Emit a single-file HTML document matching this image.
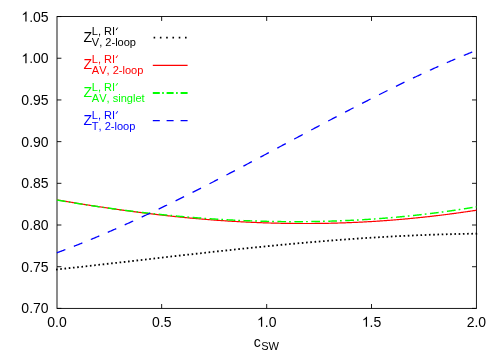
<!DOCTYPE html>
<html><head><meta charset="utf-8"><title>plot</title>
<style>html,body{margin:0;padding:0;background:#fff;}body{width:500px;height:350px;overflow:hidden;font-family:"Liberation Sans",sans-serif;}</style>
</head><body>
<svg width="500" height="350" viewBox="0 0 500 350" style="display:block;transform:translateZ(0);will-change:transform;font-kerning:none;font-variant-ligatures:none" font-family="Liberation Sans, sans-serif">
<rect x="0" y="0" width="500" height="350" fill="#fff"/>
<rect x="57.0" y="16.55" width="419.40" height="291.85" fill="none" stroke="#000" stroke-width="0.9"/>
<path d="M57.0,308.40h4.4M476.4,308.40h-4.4M57.0,266.71h4.4M476.4,266.71h-4.4M57.0,225.01h4.4M476.4,225.01h-4.4M57.0,183.32h4.4M476.4,183.32h-4.4M57.0,141.63h4.4M476.4,141.63h-4.4M57.0,99.94h4.4M476.4,99.94h-4.4M57.0,58.24h4.4M476.4,58.24h-4.4M57.0,16.55h4.4M476.4,16.55h-4.4M161.65,308.4v-4.4M161.65,16.55v4.4M266.70,308.4v-4.4M266.70,16.55v4.4M371.50,308.4v-4.4M371.50,16.55v4.4" fill="none" stroke="#000" stroke-width="0.9"/>
<path d="M56.00,269.55L57.60,269.39 M60.24,269.10L61.84,268.94 M64.48,268.64L66.08,268.48 M68.72,268.18L70.32,268.02 M72.95,267.72L74.55,267.56 M77.19,267.25L78.79,267.09 M81.43,266.78L83.03,266.62 M85.67,266.31L87.27,266.15 M89.91,265.83L91.51,265.67 M94.15,265.36L95.75,265.20 M98.38,264.88L99.98,264.72 M102.62,264.40L104.22,264.24 M106.86,263.92L108.46,263.76 M111.10,263.43L112.70,263.27 M115.34,262.95L116.94,262.79 M119.58,262.46L121.18,262.30 M123.81,261.98L125.41,261.82 M128.05,261.49L129.65,261.33 M132.29,261.00L133.89,260.84 M136.53,260.52L138.13,260.36 M140.77,260.03L142.37,259.87 M145.01,259.54L146.61,259.38 M149.24,259.05L150.84,258.89 M153.48,258.57L155.08,258.41 M157.72,258.08L159.32,257.92 M161.96,257.59L163.56,257.43 M166.20,257.11L167.80,256.95 M170.44,256.62L172.04,256.46 M174.67,256.14L176.27,255.98 M178.91,255.66L180.51,255.50 M183.15,255.18L184.75,255.02 M187.39,254.70L188.99,254.54 M191.63,254.23L193.23,254.07 M195.87,253.75L197.47,253.59 M200.11,253.28L201.71,253.12 M204.34,252.81L205.94,252.65 M208.58,252.34L210.18,252.18 M212.82,251.88L214.42,251.72 M217.06,251.42L218.66,251.26 M221.30,250.96L222.90,250.80 M225.54,250.50L227.14,250.34 M229.77,250.05L231.37,249.89 M234.01,249.60L235.61,249.44 M238.25,249.15L239.85,248.99 M242.49,248.71L244.09,248.55 M246.73,248.27L248.33,248.11 M250.97,247.84L252.57,247.68 M255.20,247.41L256.80,247.25 M259.44,246.98L261.04,246.82 M263.68,246.56L265.28,246.40 M267.92,246.15L269.52,245.99 M272.16,245.73L273.76,245.57 M276.40,245.33L278.00,245.17 M280.63,244.92L282.23,244.76 M284.87,244.53L286.47,244.37 M289.11,244.13L290.71,243.97 M293.35,243.75L294.95,243.59 M297.59,243.37L299.19,243.21 M301.83,242.99L303.43,242.83 M306.06,242.62L307.66,242.46 M310.30,242.25L311.90,242.09 M314.54,241.90L316.14,241.74 M318.78,241.54L320.38,241.38 M323.02,241.20L324.62,241.04 M327.26,240.86L328.86,240.70 M331.49,240.52L333.09,240.36 M335.73,240.20L337.33,240.04 M339.97,239.88L341.57,239.72 M344.21,239.56L345.81,239.40 M348.45,239.26L350.05,239.10 M352.69,238.96L354.29,238.80 M356.93,238.66L358.53,238.50 M361.16,238.38L362.76,238.22 M365.40,238.10L367.00,237.94 M369.64,237.83L371.24,237.67 M373.88,237.57L375.48,237.41 M378.12,237.31L379.72,237.15 M382.36,237.06L383.96,236.90 M386.59,236.82L388.19,236.66 M390.83,236.59L392.43,236.43 M395.07,236.37L396.67,236.21 M399.31,236.15L400.91,235.99 M403.55,235.95L405.15,235.79 M407.79,235.75L409.39,235.59 M412.02,235.56L413.62,235.40 M416.26,235.37L417.86,235.21 M420.50,235.20L422.10,235.04 M424.74,235.03L426.34,234.87 M428.98,234.88L430.58,234.72 M433.22,234.73L434.82,234.57 M437.45,234.59L439.05,234.43 M441.69,234.46L443.29,234.30 M445.93,234.34L447.53,234.18 M450.17,234.23L451.77,234.07 M454.41,234.13L456.01,233.97 M458.65,234.04L460.25,233.88 M462.88,233.96L464.48,233.80 M467.12,233.88L468.72,233.72 M471.36,233.82L472.96,233.66 M475.60,233.77L477.20,233.61" fill="none" stroke="#000" stroke-width="1.8"/>
<path d="M57.00,199.89 L58.00,200.06 L59.00,200.24 L60.00,200.41 L61.00,200.58 L62.00,200.75 L63.01,200.92 L64.01,201.09 L65.01,201.26 L66.01,201.43 L67.01,201.59 L68.01,201.76 L69.01,201.93 L70.01,202.10 L71.01,202.26 L72.01,202.43 L73.02,202.59 L74.02,202.76 L75.02,202.92 L76.02,203.09 L77.02,203.25 L78.02,203.41 L79.02,203.58 L80.02,203.74 L81.02,203.90 L82.02,204.06 L83.02,204.22 L84.03,204.38 L85.03,204.54 L86.03,204.70 L87.03,204.86 L88.03,205.02 L89.03,205.18 L90.03,205.33 L91.03,205.49 L92.03,205.65 L93.03,205.80 L94.04,205.96 L95.04,206.11 L96.04,206.26 L97.04,206.42 L98.04,206.57 L99.04,206.72 L100.04,206.88 L101.04,207.03 L102.04,207.18 L103.04,207.33 L104.04,207.48 L105.05,207.63 L106.05,207.77 L107.05,207.92 L108.05,208.07 L109.05,208.22 L110.05,208.36 L111.05,208.51 L112.05,208.65 L113.05,208.80 L114.05,208.94 L115.06,209.09 L116.06,209.23 L117.06,209.37 L118.06,209.51 L119.06,209.65 L120.06,209.79 L121.06,209.93 L122.06,210.07 L123.06,210.21 L124.06,210.35 L125.06,210.49 L126.07,210.62 L127.07,210.76 L128.07,210.90 L129.07,211.03 L130.07,211.16 L131.07,211.30 L132.07,211.43 L133.07,211.56 L134.07,211.70 L135.07,211.83 L136.08,211.96 L137.08,212.09 L138.08,212.22 L139.08,212.35 L140.08,212.47 L141.08,212.60 L142.08,212.73 L143.08,212.86 L144.08,212.98 L145.08,213.11 L146.08,213.23 L147.09,213.35 L148.09,213.48 L149.09,213.60 L150.09,213.72 L151.09,213.84 L152.09,213.96 L153.09,214.08 L154.09,214.20 L155.09,214.32 L156.09,214.44 L157.10,214.55 L158.10,214.67 L159.10,214.79 L160.10,214.90 L161.10,215.02 L162.10,215.13 L163.10,215.24 L164.10,215.35 L165.10,215.47 L166.10,215.58 L167.11,215.69 L168.11,215.80 L169.11,215.91 L170.11,216.01 L171.11,216.12 L172.11,216.23 L173.11,216.33 L174.11,216.44 L175.11,216.54 L176.11,216.65 L177.11,216.75 L178.12,216.85 L179.12,216.95 L180.12,217.06 L181.12,217.16 L182.12,217.26 L183.12,217.35 L184.12,217.45 L185.12,217.55 L186.12,217.65 L187.12,217.74 L188.13,217.84 L189.13,217.93 L190.13,218.03 L191.13,218.12 L192.13,218.21 L193.13,218.30 L194.13,218.39 L195.13,218.48 L196.13,218.57 L197.13,218.66 L198.13,218.75 L199.14,218.84 L200.14,218.92 L201.14,219.01 L202.14,219.09 L203.14,219.18 L204.14,219.26 L205.14,219.34 L206.14,219.43 L207.14,219.51 L208.14,219.59 L209.15,219.67 L210.15,219.75 L211.15,219.82 L212.15,219.90 L213.15,219.98 L214.15,220.05 L215.15,220.13 L216.15,220.20 L217.15,220.28 L218.15,220.35 L219.15,220.42 L220.16,220.49 L221.16,220.56 L222.16,220.63 L223.16,220.70 L224.16,220.77 L225.16,220.83 L226.16,220.90 L227.16,220.97 L228.16,221.03 L229.16,221.09 L230.17,221.16 L231.17,221.22 L232.17,221.28 L233.17,221.34 L234.17,221.40 L235.17,221.46 L236.17,221.52 L237.17,221.58 L238.17,221.63 L239.17,221.69 L240.17,221.74 L241.18,221.80 L242.18,221.85 L243.18,221.90 L244.18,221.96 L245.18,222.01 L246.18,222.06 L247.18,222.11 L248.18,222.15 L249.18,222.20 L250.18,222.25 L251.19,222.29 L252.19,222.34 L253.19,222.38 L254.19,222.43 L255.19,222.47 L256.19,222.51 L257.19,222.55 L258.19,222.59 L259.19,222.63 L260.19,222.67 L261.19,222.71 L262.20,222.75 L263.20,222.78 L264.20,222.82 L265.20,222.85 L266.20,222.89 L267.20,222.92 L268.20,222.95 L269.20,222.98 L270.20,223.01 L271.20,223.04 L272.21,223.07 L273.21,223.10 L274.21,223.12 L275.21,223.15 L276.21,223.17 L277.21,223.20 L278.21,223.22 L279.21,223.24 L280.21,223.27 L281.21,223.29 L282.21,223.31 L283.22,223.33 L284.22,223.34 L285.22,223.36 L286.22,223.38 L287.22,223.39 L288.22,223.41 L289.22,223.42 L290.22,223.43 L291.22,223.45 L292.22,223.46 L293.23,223.47 L294.23,223.48 L295.23,223.49 L296.23,223.49 L297.23,223.50 L298.23,223.51 L299.23,223.51 L300.23,223.52 L301.23,223.52 L302.23,223.52 L303.23,223.52 L304.24,223.52 L305.24,223.52 L306.24,223.52 L307.24,223.52 L308.24,223.52 L309.24,223.51 L310.24,223.51 L311.24,223.50 L312.24,223.50 L313.24,223.49 L314.25,223.48 L315.25,223.47 L316.25,223.46 L317.25,223.45 L318.25,223.44 L319.25,223.43 L320.25,223.42 L321.25,223.40 L322.25,223.39 L323.25,223.37 L324.25,223.35 L325.26,223.34 L326.26,223.32 L327.26,223.30 L328.26,223.28 L329.26,223.26 L330.26,223.23 L331.26,223.21 L332.26,223.19 L333.26,223.16 L334.26,223.13 L335.27,223.11 L336.27,223.08 L337.27,223.05 L338.27,223.02 L339.27,222.99 L340.27,222.96 L341.27,222.93 L342.27,222.89 L343.27,222.86 L344.27,222.83 L345.27,222.79 L346.28,222.75 L347.28,222.72 L348.28,222.68 L349.28,222.64 L350.28,222.60 L351.28,222.56 L352.28,222.51 L353.28,222.47 L354.28,222.43 L355.28,222.38 L356.29,222.34 L357.29,222.29 L358.29,222.24 L359.29,222.19 L360.29,222.14 L361.29,222.09 L362.29,222.04 L363.29,221.99 L364.29,221.94 L365.29,221.88 L366.29,221.83 L367.30,221.77 L368.30,221.72 L369.30,221.66 L370.30,221.60 L371.30,221.54 L372.30,221.48 L373.30,221.42 L374.30,221.36 L375.30,221.29 L376.30,221.23 L377.31,221.16 L378.31,221.10 L379.31,221.03 L380.31,220.96 L381.31,220.90 L382.31,220.83 L383.31,220.76 L384.31,220.68 L385.31,220.61 L386.31,220.54 L387.32,220.46 L388.32,220.39 L389.32,220.31 L390.32,220.24 L391.32,220.16 L392.32,220.08 L393.32,220.00 L394.32,219.92 L395.32,219.84 L396.32,219.76 L397.32,219.67 L398.33,219.59 L399.33,219.50 L400.33,219.42 L401.33,219.33 L402.33,219.24 L403.33,219.16 L404.33,219.07 L405.33,218.97 L406.33,218.88 L407.33,218.79 L408.34,218.70 L409.34,218.60 L410.34,218.51 L411.34,218.41 L412.34,218.32 L413.34,218.22 L414.34,218.12 L415.34,218.02 L416.34,217.92 L417.34,217.82 L418.34,217.72 L419.35,217.61 L420.35,217.51 L421.35,217.40 L422.35,217.30 L423.35,217.19 L424.35,217.08 L425.35,216.97 L426.35,216.86 L427.35,216.75 L428.35,216.64 L429.36,216.53 L430.36,216.42 L431.36,216.30 L432.36,216.19 L433.36,216.07 L434.36,215.95 L435.36,215.84 L436.36,215.72 L437.36,215.60 L438.36,215.48 L439.36,215.35 L440.37,215.23 L441.37,215.11 L442.37,214.98 L443.37,214.86 L444.37,214.73 L445.37,214.61 L446.37,214.48 L447.37,214.35 L448.37,214.22 L449.37,214.09 L450.38,213.96 L451.38,213.83 L452.38,213.69 L453.38,213.56 L454.38,213.42 L455.38,213.29 L456.38,213.15 L457.38,213.01 L458.38,212.87 L459.38,212.74 L460.38,212.59 L461.39,212.45 L462.39,212.31 L463.39,212.17 L464.39,212.02 L465.39,211.88 L466.39,211.73 L467.39,211.59 L468.39,211.44 L469.39,211.29 L470.39,211.14 L471.40,210.99 L472.40,210.84 L473.40,210.69 L474.40,210.54 L475.40,210.38 L476.40,210.23" fill="none" stroke="#f00" stroke-width="1.2"/>
<path d="M57.00,200.03 L57.51,200.12 L58.02,200.20 L58.54,200.29 L59.05,200.38 L59.56,200.47 L60.07,200.56 L60.58,200.64 L61.09,200.73 L61.61,200.82 L62.12,200.91 L62.63,200.99 L63.14,201.08 L63.65,201.17 L64.16,201.25 L64.68,201.34 L65.19,201.43 L65.70,201.51 M68.75,202.02 L69.32,202.11 L69.88,202.21 L70.45,202.30 M73.95,202.88 L74.47,202.96 L74.98,203.04 L75.49,203.13 L76.00,203.21 L76.51,203.29 L77.02,203.37 L77.54,203.46 L78.05,203.54 L78.56,203.62 L79.07,203.70 L79.58,203.78 L80.09,203.86 L80.61,203.94 L81.12,204.03 L81.63,204.11 L82.14,204.19 L82.65,204.27 M85.70,204.74 L86.27,204.83 L86.84,204.92 L87.40,205.01 M90.91,205.54 L91.42,205.62 L91.93,205.70 L92.44,205.77 L92.95,205.85 L93.47,205.93 L93.98,206.01 L94.49,206.08 L95.00,206.16 L95.51,206.23 L96.02,206.31 L96.54,206.39 L97.05,206.46 L97.56,206.54 L98.07,206.61 L98.58,206.69 L99.10,206.76 L99.61,206.84 M102.66,207.28 L103.22,207.36 L103.79,207.44 L104.36,207.52 M107.86,208.02 L108.37,208.09 L108.88,208.16 L109.40,208.24 L109.91,208.31 L110.42,208.38 L110.93,208.45 L111.44,208.52 L111.95,208.59 L112.47,208.66 L112.98,208.73 L113.49,208.80 L114.00,208.87 L114.51,208.94 L115.03,209.01 L115.54,209.08 L116.05,209.15 L116.56,209.22 M119.61,209.63 L120.18,209.70 L120.74,209.78 L121.31,209.85 M124.81,210.31 L125.33,210.37 L125.84,210.44 L126.35,210.50 L126.86,210.57 L127.37,210.64 L127.88,210.70 L128.40,210.77 L128.91,210.83 L129.42,210.89 L129.93,210.96 L130.44,211.02 L130.96,211.09 L131.47,211.15 L131.98,211.22 L132.49,211.28 L133.00,211.34 L133.51,211.40 M136.56,211.78 L137.13,211.85 L137.70,211.91 L138.26,211.98 M141.77,212.40 L142.28,212.46 L142.79,212.52 L143.30,212.58 L143.81,212.64 L144.33,212.70 L144.84,212.76 L145.35,212.81 L145.86,212.87 L146.37,212.93 L146.89,212.99 L147.40,213.05 L147.91,213.11 L148.42,213.16 L148.93,213.22 L149.44,213.28 L149.96,213.34 L150.47,213.39 M153.52,213.73 L154.08,213.79 L154.65,213.85 L155.22,213.91 M158.72,214.29 L159.23,214.34 L159.74,214.40 L160.26,214.45 L160.77,214.50 L161.28,214.56 L161.79,214.61 L162.30,214.66 L162.82,214.71 L163.33,214.77 L163.84,214.82 L164.35,214.87 L164.86,214.92 L165.37,214.97 L165.89,215.03 L166.40,215.08 L166.91,215.13 L167.42,215.18 M170.47,215.48 L171.04,215.53 L171.60,215.59 L172.17,215.64 M175.67,215.97 L176.19,216.02 L176.70,216.07 L177.21,216.12 L177.72,216.16 L178.23,216.21 L178.75,216.26 L179.26,216.30 L179.77,216.35 L180.28,216.40 L180.79,216.44 L181.30,216.49 L181.82,216.53 L182.33,216.58 L182.84,216.62 L183.35,216.67 L183.86,216.71 L184.37,216.76 M187.42,217.02 L187.99,217.07 L188.56,217.12 L189.12,217.16 M192.63,217.45 L193.14,217.49 L193.65,217.53 L194.16,217.57 L194.68,217.62 L195.19,217.66 L195.70,217.70 L196.21,217.74 L196.72,217.78 L197.23,217.82 L197.75,217.86 L198.26,217.90 L198.77,217.93 L199.28,217.97 L199.79,218.01 L200.30,218.05 L200.82,218.09 L201.33,218.13 M204.38,218.35 L204.94,218.39 L205.51,218.43 L206.08,218.47 M209.58,218.72 L210.09,218.75 L210.61,218.78 L211.12,218.82 L211.63,218.85 L212.14,218.89 L212.65,218.92 L213.16,218.95 L213.68,218.99 L214.19,219.02 L214.70,219.05 L215.21,219.09 L215.72,219.12 L216.23,219.15 L216.75,219.18 L217.26,219.22 L217.77,219.25 L218.28,219.28 M221.33,219.46 L221.90,219.50 L222.47,219.53 L223.03,219.56 M226.54,219.76 L227.05,219.79 L227.56,219.82 L228.07,219.85 L228.58,219.87 L229.09,219.90 L229.61,219.93 L230.12,219.95 L230.63,219.98 L231.14,220.01 L231.65,220.03 L232.16,220.06 L232.68,220.09 L233.19,220.11 L233.70,220.14 L234.21,220.16 L234.72,220.19 L235.24,220.21 M238.29,220.36 L238.85,220.38 L239.42,220.41 L239.99,220.43 M243.49,220.58 L244.00,220.61 L244.51,220.63 L245.02,220.65 L245.54,220.67 L246.05,220.69 L246.56,220.71 L247.07,220.73 L247.58,220.75 L248.09,220.77 L248.61,220.79 L249.12,220.81 L249.63,220.83 L250.14,220.85 L250.65,220.86 L251.17,220.88 L251.68,220.90 L252.19,220.92 M255.24,221.02 L255.81,221.04 L256.37,221.06 L256.94,221.08 M260.44,221.18 L260.95,221.20 L261.47,221.21 L261.98,221.22 L262.49,221.24 L263.00,221.25 L263.51,221.26 L264.02,221.28 L264.54,221.29 L265.05,221.30 L265.56,221.32 L266.07,221.33 L266.58,221.34 L267.10,221.35 L267.61,221.36 L268.12,221.38 L268.63,221.39 L269.14,221.40 M272.19,221.46 L272.76,221.47 L273.33,221.48 L273.89,221.49 M277.40,221.55 L277.91,221.55 L278.42,221.56 L278.93,221.57 L279.44,221.57 L279.95,221.58 L280.47,221.59 L280.98,221.59 L281.49,221.60 L282.00,221.60 L282.51,221.61 L283.03,221.61 L283.54,221.62 L284.05,221.62 L284.56,221.63 L285.07,221.63 L285.58,221.64 L286.10,221.64 M289.15,221.66 L289.71,221.66 L290.28,221.67 L290.85,221.67 M294.35,221.67 L294.86,221.67 L295.37,221.67 L295.88,221.67 L296.40,221.67 L296.91,221.67 L297.42,221.67 L297.93,221.67 L298.44,221.67 L298.96,221.67 L299.47,221.67 L299.98,221.66 L300.49,221.66 L301.00,221.66 L301.51,221.66 L302.03,221.65 L302.54,221.65 L303.05,221.65 M306.10,221.62 L306.67,221.62 L307.23,221.61 L307.80,221.60 M311.30,221.56 L311.81,221.55 L312.33,221.55 L312.84,221.54 L313.35,221.53 L313.86,221.52 L314.37,221.51 L314.89,221.51 L315.40,221.50 L315.91,221.49 L316.42,221.48 L316.93,221.47 L317.44,221.46 L317.96,221.45 L318.47,221.44 L318.98,221.43 L319.49,221.42 L320.00,221.41 M323.05,221.34 L323.62,221.32 L324.19,221.31 L324.75,221.30 M328.26,221.20 L328.77,221.19 L329.28,221.17 L329.79,221.16 L330.30,221.14 L330.82,221.13 L331.33,221.11 L331.84,221.09 L332.35,221.08 L332.86,221.06 L333.37,221.04 L333.89,221.03 L334.40,221.01 L334.91,220.99 L335.42,220.97 L335.93,220.96 L336.44,220.94 L336.96,220.92 M340.01,220.81 L340.57,220.78 L341.14,220.76 L341.71,220.74 M345.21,220.59 L345.72,220.57 L346.23,220.55 L346.75,220.52 L347.26,220.50 L347.77,220.48 L348.28,220.45 L348.79,220.43 L349.30,220.41 L349.82,220.38 L350.33,220.36 L350.84,220.33 L351.35,220.31 L351.86,220.28 L352.37,220.26 L352.89,220.23 L353.40,220.21 L353.91,220.18 M356.96,220.02 L357.53,219.99 L358.09,219.96 L358.66,219.93 M362.16,219.72 L362.68,219.69 L363.19,219.66 L363.70,219.63 L364.21,219.60 L364.72,219.57 L365.23,219.54 L365.75,219.51 L366.26,219.48 L366.77,219.44 L367.28,219.41 L367.79,219.38 L368.30,219.35 L368.82,219.31 L369.33,219.28 L369.84,219.25 L370.35,219.21 L370.86,219.18 M373.91,218.97 L374.48,218.93 L375.05,218.89 L375.61,218.85 M379.12,218.60 L379.63,218.56 L380.14,218.52 L380.65,218.48 L381.16,218.44 L381.68,218.40 L382.19,218.36 L382.70,218.32 L383.21,218.28 L383.72,218.24 L384.23,218.20 L384.75,218.16 L385.26,218.12 L385.77,218.08 L386.28,218.04 L386.79,218.00 L387.31,217.96 L387.82,217.92 M390.87,217.66 L391.43,217.61 L392.00,217.56 L392.57,217.51 M396.07,217.20 L396.58,217.16 L397.09,217.11 L397.61,217.06 L398.12,217.02 L398.63,216.97 L399.14,216.92 L399.65,216.87 L400.16,216.83 L400.68,216.78 L401.19,216.73 L401.70,216.68 L402.21,216.63 L402.72,216.58 L403.24,216.53 L403.75,216.48 L404.26,216.43 L404.77,216.38 M407.82,216.08 L408.39,216.02 L408.95,215.96 L409.52,215.90 M413.02,215.54 L413.54,215.48 L414.05,215.43 L414.56,215.37 L415.07,215.32 L415.58,215.26 L416.09,215.21 L416.61,215.15 L417.12,215.09 L417.63,215.04 L418.14,214.98 L418.65,214.92 L419.17,214.87 L419.68,214.81 L420.19,214.75 L420.70,214.69 L421.21,214.63 L421.72,214.58 M424.77,214.22 L425.34,214.15 L425.91,214.09 L426.47,214.02 M429.98,213.59 L430.49,213.53 L431.00,213.47 L431.51,213.40 L432.02,213.34 L432.54,213.28 L433.05,213.21 L433.56,213.15 L434.07,213.08 L434.58,213.02 L435.10,212.95 L435.61,212.89 L436.12,212.82 L436.63,212.76 L437.14,212.69 L437.65,212.62 L438.17,212.56 L438.68,212.49 M441.73,212.08 L442.29,212.01 L442.86,211.93 L443.43,211.85 M446.93,211.37 L447.44,211.30 L447.95,211.23 L448.47,211.15 L448.98,211.08 L449.49,211.01 L450.00,210.94 L450.51,210.86 L451.03,210.79 L451.54,210.72 L452.05,210.64 L452.56,210.57 L453.07,210.49 L453.58,210.42 L454.10,210.34 L454.61,210.27 L455.12,210.19 L455.63,210.12 M458.68,209.66 L459.25,209.57 L459.81,209.49 L460.38,209.40 M463.88,208.86 L464.40,208.78 L464.91,208.70 L465.42,208.62 L465.93,208.53 L466.44,208.45 L466.96,208.37 L467.47,208.29 L467.98,208.21 L468.49,208.12 L469.00,208.04 L469.51,207.96 L470.03,207.88 L470.54,207.79 L471.05,207.71 L471.56,207.62 L472.07,207.54 L472.58,207.45 M475.63,206.94 L476.02,206.88 L476.40,206.82" fill="none" stroke="#0f0" stroke-width="1.45"/>
<path d="M56.90,252.79 L57.40,252.60 L57.90,252.41 L58.40,252.23 L58.90,252.04 L59.40,251.85 L59.90,251.67 L60.40,251.48 L60.90,251.29 L61.40,251.10 L61.90,250.91 L62.40,250.72 L62.90,250.54 L63.40,250.35 L63.90,250.16 L64.40,249.97 L64.90,249.77 L65.40,249.58 M73.85,246.31 L74.35,246.11 L74.85,245.92 L75.35,245.72 L75.85,245.52 L76.35,245.32 L76.85,245.12 L77.35,244.93 L77.85,244.73 L78.35,244.53 L78.85,244.33 L79.35,244.13 L79.85,243.93 L80.35,243.73 L80.85,243.53 L81.35,243.33 L81.85,243.13 L82.35,242.93 M90.81,239.48 L91.31,239.27 L91.81,239.06 L92.31,238.86 L92.81,238.65 L93.31,238.44 L93.81,238.23 L94.31,238.03 L94.81,237.82 L95.31,237.61 L95.81,237.40 L96.31,237.19 L96.81,236.98 L97.31,236.77 L97.81,236.56 L98.31,236.35 L98.81,236.14 L99.31,235.93 M107.76,232.32 L108.26,232.10 L108.76,231.88 L109.26,231.67 L109.76,231.45 L110.26,231.23 L110.76,231.02 L111.26,230.80 L111.76,230.58 L112.26,230.36 L112.76,230.14 L113.26,229.93 L113.76,229.71 L114.26,229.49 L114.76,229.27 L115.26,229.05 L115.76,228.83 L116.26,228.61 M124.71,224.85 L125.21,224.62 L125.71,224.40 L126.21,224.17 L126.71,223.95 L127.21,223.72 L127.71,223.50 L128.21,223.27 L128.71,223.04 L129.21,222.82 L129.71,222.59 L130.21,222.36 L130.71,222.14 L131.21,221.91 L131.71,221.68 L132.21,221.45 L132.71,221.22 L133.21,220.99 M141.67,217.10 L142.17,216.86 L142.67,216.63 L143.17,216.40 L143.67,216.16 L144.17,215.93 L144.67,215.70 L145.17,215.46 L145.67,215.23 L146.17,214.99 L146.67,214.76 L147.17,214.52 L147.67,214.29 L148.17,214.05 L148.67,213.82 L149.17,213.58 L149.67,213.35 L150.17,213.11 M158.62,209.09 L159.12,208.85 L159.62,208.61 L160.12,208.37 L160.62,208.12 L161.12,207.88 L161.62,207.64 L162.12,207.40 L162.62,207.16 L163.12,206.92 L163.62,206.68 L164.12,206.44 L164.62,206.19 L165.12,205.95 L165.62,205.71 L166.12,205.47 L166.62,205.22 L167.12,204.98 M175.57,200.84 L176.07,200.60 L176.57,200.35 L177.07,200.10 L177.57,199.86 L178.07,199.61 L178.57,199.36 L179.07,199.12 L179.57,198.87 L180.07,198.62 L180.57,198.37 L181.07,198.12 L181.57,197.88 L182.07,197.63 L182.57,197.38 L183.07,197.13 L183.57,196.88 L184.07,196.63 M192.53,192.40 L193.03,192.14 L193.53,191.89 L194.03,191.64 L194.53,191.39 L195.03,191.14 L195.53,190.88 L196.03,190.63 L196.53,190.38 L197.03,190.12 L197.53,189.87 L198.03,189.62 L198.53,189.36 L199.03,189.11 L199.53,188.86 L200.03,188.60 L200.53,188.35 L201.03,188.09 M209.48,183.77 L209.98,183.52 L210.48,183.26 L210.98,183.00 L211.48,182.75 L211.98,182.49 L212.48,182.23 L212.98,181.97 L213.48,181.72 L213.98,181.46 L214.48,181.20 L214.98,180.94 L215.48,180.68 L215.98,180.43 L216.48,180.17 L216.98,179.91 L217.48,179.65 L217.98,179.39 M226.44,175.00 L226.94,174.74 L227.44,174.48 L227.94,174.22 L228.44,173.96 L228.94,173.70 L229.44,173.44 L229.94,173.18 L230.44,172.92 L230.94,172.65 L231.44,172.39 L231.94,172.13 L232.44,171.87 L232.94,171.61 L233.44,171.35 L233.94,171.08 L234.44,170.82 L234.94,170.56 M243.39,166.12 L243.89,165.85 L244.39,165.59 L244.89,165.32 L245.39,165.06 L245.89,164.80 L246.39,164.53 L246.89,164.27 L247.39,164.00 L247.89,163.74 L248.39,163.48 L248.89,163.21 L249.39,162.95 L249.89,162.68 L250.39,162.42 L250.89,162.15 L251.39,161.89 L251.89,161.63 M260.34,157.14 L260.84,156.88 L261.34,156.61 L261.84,156.35 L262.34,156.08 L262.84,155.81 L263.34,155.55 L263.84,155.28 L264.34,155.02 L264.84,154.75 L265.34,154.48 L265.84,154.22 L266.34,153.95 L266.84,153.69 L267.34,153.42 L267.84,153.15 L268.34,152.89 L268.84,152.62 M277.30,148.12 L277.80,147.85 L278.30,147.58 L278.80,147.32 L279.30,147.05 L279.80,146.78 L280.30,146.51 L280.80,146.25 L281.30,145.98 L281.80,145.71 L282.30,145.45 L282.80,145.18 L283.30,144.91 L283.80,144.65 L284.30,144.38 L284.80,144.11 L285.30,143.85 L285.80,143.58 M294.25,139.07 L294.75,138.80 L295.25,138.53 L295.75,138.27 L296.25,138.00 L296.75,137.73 L297.25,137.47 L297.75,137.20 L298.25,136.93 L298.75,136.67 L299.25,136.40 L299.75,136.13 L300.25,135.87 L300.75,135.60 L301.25,135.33 L301.75,135.07 L302.25,134.80 L302.75,134.53 M311.20,130.03 L311.70,129.77 L312.20,129.50 L312.70,129.24 L313.20,128.97 L313.70,128.70 L314.20,128.44 L314.70,128.17 L315.20,127.91 L315.70,127.64 L316.20,127.38 L316.70,127.11 L317.20,126.85 L317.70,126.58 L318.20,126.32 L318.70,126.05 L319.20,125.79 L319.70,125.52 M328.16,121.05 L328.66,120.78 L329.16,120.52 L329.66,120.26 L330.16,119.99 L330.66,119.73 L331.16,119.47 L331.66,119.20 L332.16,118.94 L332.66,118.68 L333.16,118.41 L333.66,118.15 L334.16,117.89 L334.66,117.62 L335.16,117.36 L335.66,117.10 L336.16,116.84 L336.66,116.57 M345.11,112.15 L345.61,111.89 L346.11,111.63 L346.61,111.37 L347.11,111.11 L347.61,110.85 L348.11,110.58 L348.61,110.32 L349.11,110.06 L349.61,109.80 L350.11,109.54 L350.61,109.29 L351.11,109.03 L351.61,108.77 L352.11,108.51 L352.61,108.25 L353.11,107.99 L353.61,107.73 M362.06,103.37 L362.56,103.11 L363.06,102.86 L363.56,102.60 L364.06,102.34 L364.56,102.09 L365.06,101.83 L365.56,101.58 L366.06,101.32 L366.56,101.07 L367.06,100.81 L367.56,100.55 L368.06,100.30 L368.56,100.04 L369.06,99.79 L369.56,99.54 L370.06,99.28 L370.56,99.03 M379.02,94.75 L379.52,94.50 L380.02,94.25 L380.52,94.00 L381.02,93.75 L381.52,93.50 L382.02,93.25 L382.52,93.00 L383.02,92.75 L383.52,92.50 L384.02,92.25 L384.52,92.00 L385.02,91.75 L385.52,91.50 L386.02,91.25 L386.52,91.00 L387.02,90.75 L387.52,90.50 M395.97,86.33 L396.47,86.09 L396.97,85.84 L397.47,85.60 L397.97,85.35 L398.47,85.11 L398.97,84.87 L399.47,84.62 L399.97,84.38 L400.47,84.14 L400.97,83.89 L401.47,83.65 L401.97,83.41 L402.47,83.17 L402.97,82.92 L403.47,82.68 L403.97,82.44 L404.47,82.20 M412.92,78.15 L413.42,77.92 L413.92,77.68 L414.42,77.44 L414.92,77.21 L415.42,76.97 L415.92,76.73 L416.42,76.50 L416.92,76.26 L417.42,76.03 L417.92,75.79 L418.42,75.56 L418.92,75.32 L419.42,75.09 L419.92,74.85 L420.42,74.62 L420.92,74.39 L421.42,74.15 M429.88,70.25 L430.38,70.03 L430.88,69.80 L431.38,69.57 L431.88,69.34 L432.38,69.11 L432.88,68.89 L433.38,68.66 L433.88,68.44 L434.38,68.21 L434.88,67.98 L435.38,67.76 L435.88,67.53 L436.38,67.31 L436.88,67.08 L437.38,66.86 L437.88,66.64 L438.38,66.41 M446.83,62.68 L447.33,62.46 L447.83,62.24 L448.33,62.02 L448.83,61.81 L449.33,61.59 L449.83,61.37 L450.33,61.16 L450.83,60.94 L451.33,60.73 L451.83,60.51 L452.33,60.29 L452.83,60.08 L453.33,59.87 L453.83,59.65 L454.33,59.44 L454.83,59.23 L455.33,59.01 M463.78,55.47 L464.28,55.26 L464.78,55.05 L465.28,54.85 L465.78,54.64 L466.28,54.44 L466.78,54.23 L467.28,54.03 L467.78,53.82 L468.28,53.62 L468.78,53.41 L469.28,53.21 L469.78,53.01 L470.28,52.81 L470.78,52.60 L471.28,52.40 L471.78,52.20 L472.28,52.00" fill="none" stroke="#00f" stroke-width="1.3"/>
<g font-size="14" fill="#000">
<text x="21.35" y="313.40">0.70</text>
<text x="21.35" y="271.71">0.75</text>
<text x="21.35" y="230.01">0.80</text>
<text x="21.35" y="188.32">0.85</text>
<text x="21.35" y="146.63">0.90</text>
<text x="21.35" y="104.94">0.95</text>
<path d="M763,0H583V1147Q518,1085 412.5,1023Q307,961 223,930V1104Q374,1175 487,1276Q600,1377 647,1472H763Z" transform="translate(21.35,63.24) scale(0.006836,-0.006836)"/><text x="29.14" y="63.24">.00</text>
<path d="M763,0H583V1147Q518,1085 412.5,1023Q307,961 223,930V1104Q374,1175 487,1276Q600,1377 647,1472H763Z" transform="translate(21.35,21.55) scale(0.006836,-0.006836)"/><text x="29.14" y="21.55">.05</text>
<text x="47.27" y="326.80">0.0</text>
<text x="152.12" y="326.80">0.5</text>
<path d="M763,0H583V1147Q518,1085 412.5,1023Q307,961 223,930V1104Q374,1175 487,1276Q600,1377 647,1472H763Z" transform="translate(256.97,326.80) scale(0.006836,-0.006836)"/><text x="264.76" y="326.80">.0</text>
<path d="M763,0H583V1147Q518,1085 412.5,1023Q307,961 223,930V1104Q374,1175 487,1276Q600,1377 647,1472H763Z" transform="translate(361.82,326.80) scale(0.006836,-0.006836)"/><text x="369.61" y="326.80">.5</text>
<text x="466.67" y="326.80">2.0</text>
<text x="253.8" y="346.75">c<tspan font-size="11.05" dx="0.4" dy="3.1">SW</tspan></text>
</g>
<g fill="#000"><text x="83.4" y="41.50" font-size="14">Z</text><text x="91.8" y="35.20" font-size="11.05">L, RI</text><path d="M116.10,30.10l1.5,-2.5" stroke="#000" stroke-width="1" fill="none"/><text x="91.8" y="46.10" font-size="11.05">V, 2-loop</text></g>
<g fill="#f00"><text x="83.4" y="69.30" font-size="14">Z</text><text x="91.8" y="63.00" font-size="11.05">L, RI</text><path d="M116.10,57.90l1.5,-2.5" stroke="#f00" stroke-width="1" fill="none"/><text x="91.8" y="73.90" font-size="11.05">AV, 2-loop</text></g>
<g fill="#0f0"><text x="83.4" y="97.05" font-size="14">Z</text><text x="91.8" y="90.75" font-size="11.05">L, RI</text><path d="M116.10,85.65l1.5,-2.5" stroke="#0f0" stroke-width="1" fill="none"/><text x="91.8" y="101.65" font-size="11.05">AV, singlet</text></g>
<g fill="#00f"><text x="83.4" y="125.15" font-size="14">Z</text><text x="91.8" y="118.85" font-size="11.05">L, RI</text><path d="M116.10,113.75l1.5,-2.5" stroke="#00f" stroke-width="1" fill="none"/><text x="91.8" y="129.75" font-size="11.05">T, 2-loop</text></g>
<path d="M153.60,37.6h1.6 M159.88,37.6h1.6 M166.16,37.6h1.6 M172.44,37.6h1.6 M178.72,37.6h1.6 M185.00,37.6h1.6" stroke="#000" stroke-width="1.8" fill="none"/>
<path d="M152.8,65.35H187.6" stroke="#f00" stroke-width="1.25" fill="none"/>
<path d="M152.8,92.9h7.0M162.2,92.9h1.6M166.6,92.9h7.0M176.1,92.9h1.6M180.6,92.9h7.0" stroke="#0f0" stroke-width="2" fill="none"/>
<path d="M152.8,120.6h7.0M166.6,120.6h7.0M180.6,120.6h7.0" stroke="#00f" stroke-width="1.2" fill="none"/>
</svg>
</body></html>
